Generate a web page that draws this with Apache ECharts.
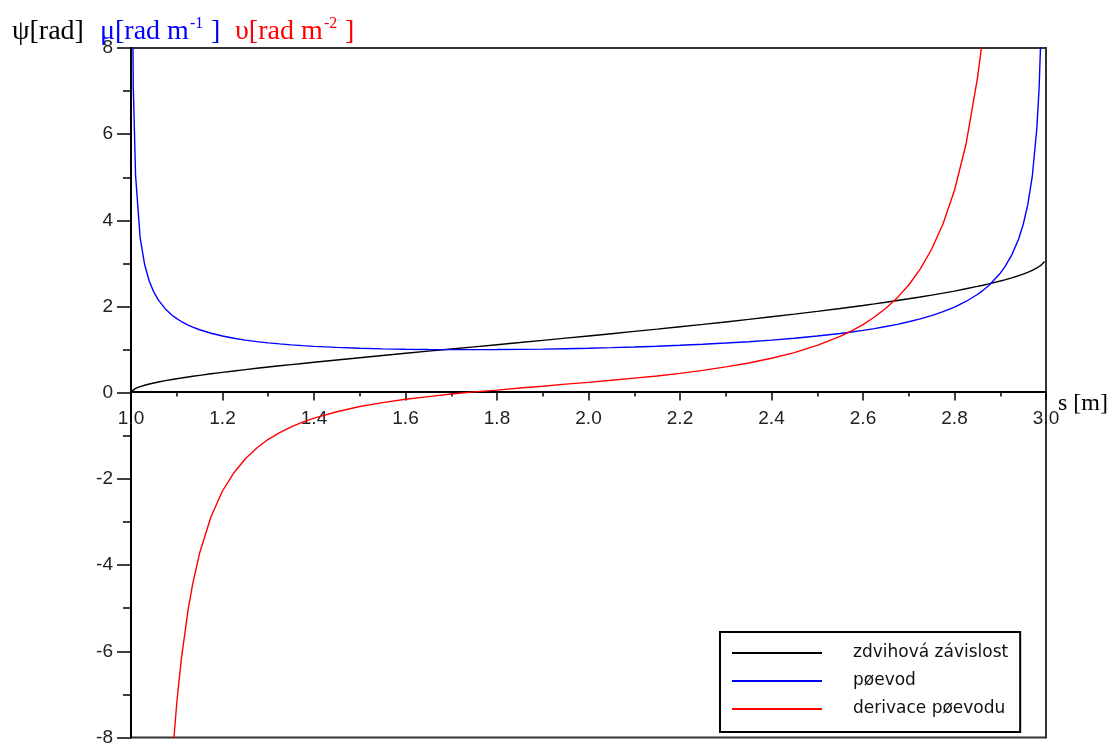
<!DOCTYPE html>
<html>
<head>
<meta charset="utf-8">
<script src="https://cdn.jsdelivr.net/npm/echarts@6/dist/echarts.min.js"></script>
<style>
html,body{margin:0;padding:0;background:#fff;}
#chart{width:1115px;height:747px;}
</style>
</head>
<body>
<div id="chart"></div>
<script>
// s [m]
var sValues = [1.001, 1.002, 1.005, 1.01, 1.02, 1.03, 1.04, 1.05, 1.06, 1.075, 1.09, 1.1, 1.11, 1.125, 1.135, 1.15, 1.175, 1.2, 1.225, 1.25, 1.275, 1.3, 1.325, 1.35, 1.375, 1.4, 1.45, 1.5, 1.55, 1.6, 1.65, 1.7, 1.75, 1.8, 1.85, 1.9, 1.95, 2.0, 2.05, 2.1, 2.15, 2.2, 2.25, 2.3, 2.35, 2.4, 2.45, 2.5, 2.55, 2.575, 2.6, 2.625, 2.65, 2.675, 2.7, 2.725, 2.75, 2.775, 2.8, 2.825, 2.85, 2.86, 2.875, 2.9, 2.91, 2.925, 2.94, 2.95, 2.96, 2.97, 2.98, 2.985, 2.99, 2.997];
// zdvihová závislost  psi [rad]
var psiValues = [0.032, 0.045, 0.071, 0.100, 0.142, 0.175, 0.202, 0.227, 0.249, 0.280, 0.308, 0.326, 0.342, 0.367, 0.382, 0.404, 0.440, 0.474, 0.506, 0.537, 0.567, 0.596, 0.625, 0.653, 0.680, 0.708, 0.761, 0.813, 0.864, 0.915, 0.965, 1.015, 1.065, 1.115, 1.165, 1.216, 1.267, 1.318, 1.370, 1.423, 1.476, 1.531, 1.586, 1.643, 1.702, 1.762, 1.824, 1.889, 1.956, 1.991, 2.026, 2.063, 2.101, 2.140, 2.180, 2.222, 2.266, 2.312, 2.359, 2.412, 2.467, 2.490, 2.526, 2.592, 2.620, 2.666, 2.716, 2.754, 2.795, 2.841, 2.896, 2.929, 2.968, 3.047];
// převod  mu [rad m-1]
var muValues = [15.83, 11.2, 7.102, 5.044, 3.597, 2.963, 2.588, 2.334, 2.149, 1.946, 1.798, 1.720, 1.653, 1.570, 1.523, 1.462, 1.380, 1.316, 1.264, 1.222, 1.187, 1.158, 1.133, 1.111, 1.093, 1.077, 1.052, 1.033, 1.019, 1.010, 1.004, 1.001, 1.000, 1.002, 1.007, 1.013, 1.022, 1.033, 1.046, 1.062, 1.080, 1.101, 1.125, 1.153, 1.185, 1.222, 1.265, 1.316, 1.376, 1.410, 1.448, 1.489, 1.536, 1.588, 1.647, 1.714, 1.791, 1.881, 1.988, 2.118, 2.280, 2.357, 2.489, 2.774, 2.920, 3.193, 3.563, 3.898, 4.352, 5.019, 6.139, 7.084, 8.671, 15.82];
// derivace převodu  upsilon [rad m-2]
var upsValues = [-7899, -2790, -704, -247.8, -86.8, -46.8, -30.2, -21.4, -16.1, -11.37, -8.52, -7.20, -6.18, -5.02, -4.43, -3.72, -2.87, -2.28, -1.855, -1.53, -1.283, -1.08, -0.924, -0.79, -0.681, -0.59, -0.44, -0.32, -0.23, -0.15, -0.09, -0.03, 0.02, 0.06, 0.11, 0.15, 0.20, 0.24, 0.29, 0.34, 0.39, 0.45, 0.52, 0.60, 0.69, 0.80, 0.93, 1.10, 1.31, 1.435, 1.58, 1.757, 1.96, 2.207, 2.50, 2.868, 3.33, 3.92, 4.70, 5.76, 7.29, 8.10, 9.63, 13.5, 15.84, 20.9, 29.2, 38.5, 53.9, 83.0, 152.7, 235.3, 432.5, 2634];

var seriesNames = ['zdvihová závislost', 'pøevod', 'derivace pøevodu'];
var seriesColors = ['#000000', '#0000ff', '#ff0000'];
var xAxisName = 's [m]';

function pairs(vals) { return sValues.map(function (s, i) { return [s, vals[i]]; }); }

var serif = 'Liberation Serif';
var big = 28, small = 16;
function tok(color, w, extra) {
  var o = {fontFamily: serif, fontWeight: 'normal', fontSize: big, color: color, lineHeight: 32};
  if (w) { o.width = w; }
  if (extra) { for (var k in extra) { o[k] = extra[k]; } }
  return o;
}
var chart = echarts.init(document.getElementById('chart'), null, {renderer: 'canvas'});
var option = {
  animation: false,
  backgroundColor: '#ffffff',
  title: [{
    text: '{k|ψ[rad]}{b|μ[rad m}{bs|-1}{b2|]}{r|υ[rad m}{rs|-2}{r2|]}',
    left: 12, top: 16, padding: 0,
    textStyle: {
      fontWeight: 'normal', fontFamily: serif, fontSize: big,
      rich: {
        k: tok('#000', 88),
        b: tok('#0000ff', 90),
        bs: tok('#0000ff', 21, {fontSize: small, verticalAlign: 'top', lineHeight: 22}),
        b2: tok('#0000ff', 24),
        r: tok('#ff0000', 89),
        rs: tok('#ff0000', 21, {fontSize: small, verticalAlign: 'top', lineHeight: 22}),
        r2: tok('#ff0000')
      }
    }
  }, {
    text: xAxisName, left: 1058, top: 392, padding: 0,
    textStyle: {fontFamily: serif, fontWeight: 'normal', fontSize: 24, color: '#000'}
  }],
  grid: {left: 131, right: 69, top: 48, bottom: 7, containLabel: false, show: true, borderColor: '#333', borderWidth: 2, backgroundColor: 'transparent'},
  legend: {
    data: seriesNames.map(function (n) { return {name: n, icon: 'rect'}; }),
    orient: 'vertical', left: 720, top: 632,
    itemWidth: 90, itemHeight: 2, itemGap: 10,
    padding: [12, 12, 14, 12],
    borderColor: '#000', borderWidth: 2, backgroundColor: '#fff',
    textStyle: {fontFamily: 'DejaVu Sans', fontSize: 17, color: '#111', lineHeight: 18, padding: [0, 0, 0, 26]}
  },
  xAxis: {
    type: 'value', min: 1, max: 3, interval: 0.2,
    position: 'bottom', offset: -346,
    axisLine: {onZero: false, lineStyle: {color: '#000', width: 2}},
    axisTick: {show: true, inside: false, length: 9, lineStyle: {color: '#000', width: 1.5}},
    minorTick: {show: true, splitNumber: 2, length: 5, lineStyle: {color: '#000', width: 1.5}},
    splitLine: {show: false},
    axisLabel: {margin: 18, fontFamily: 'Liberation Sans', fontSize: 19, color: '#222', formatter: function (v) { return v.toFixed(1); }}
  },
  yAxis: {
    type: 'value', min: -8, max: 8, interval: 2,
    axisLine: {show: true, onZero: false, lineStyle: {color: '#000', width: 2}},
    axisTick: {show: true, inside: false, length: 14, lineStyle: {color: '#000', width: 1.5}},
    minorTick: {show: true, splitNumber: 2, length: 8, lineStyle: {color: '#000', width: 1.5}},
    splitLine: {show: false},
    axisLabel: {margin: 18, fontFamily: 'Liberation Sans', fontSize: 19, color: '#222'}
  },
  series: [psiValues, muValues, upsValues].map(function (vals, i) {
    return {
      name: seriesNames[i], type: 'line', data: pairs(vals),
      showSymbol: false, symbol: 'none', clip: true, smooth: false,
      lineStyle: {color: seriesColors[i], width: 1.4},
      itemStyle: {color: seriesColors[i]}
    };
  })
};
chart.setOption(option);
</script>
</body>
</html>
